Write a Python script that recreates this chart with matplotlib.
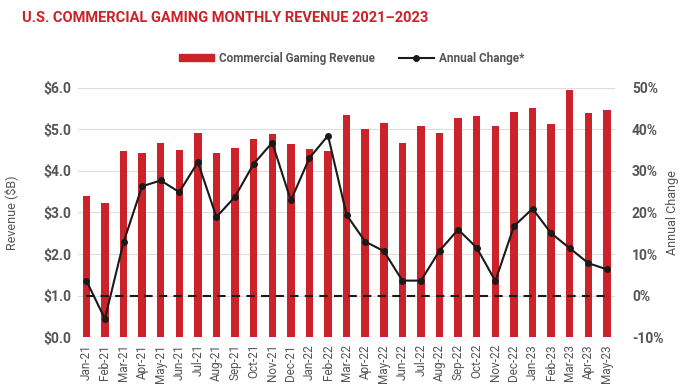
import matplotlib
matplotlib.use("Agg")
import matplotlib.pyplot as plt
import numpy as np
from matplotlib.lines import Line2D
from matplotlib.patches import Patch

plt.rcParams["font.family"] = ["Roboto", "DejaVu Sans"]

# ── data ────────────────────────────────────────────────────────────────
months = ["Jan-21", "Feb-21", "Mar-21", "Apr-21", "May-21", "Jun-21", "Jul-21",
          "Aug-21", "Sep-21", "Oct-21", "Nov-21", "Dec-21", "Jan-22", "Feb-22",
          "Mar-22", "Apr-22", "May-22", "Jun-22", "Jul-22", "Aug-22", "Sep-22",
          "Oct-22", "Nov-22", "Dec-22", "Jan-23", "Feb-23", "Mar-23", "Apr-23",
          "May-23"]
revenue = [3.40, 3.22, 4.47, 4.42, 4.67, 4.51, 4.91, 4.43, 4.55, 4.78, 4.90,
           4.64, 4.52, 4.47, 5.34, 5.00, 5.15, 4.68, 5.09, 4.92, 5.28, 5.32,
           5.07, 5.41, 5.52, 5.13, 5.94, 5.39, 5.47]
annual_change = [3.6, -5.6, 12.8, 26.3, 27.7, 24.9, 32.1, 18.9, 23.8, 31.7,
                 36.8, 22.9, 33.1, 38.5, 19.4, 13.0, 10.7, 3.6, 3.6, 10.8,
                 15.9, 11.5, 3.5, 16.7, 20.9, 15.0, 11.4, 7.8, 6.3]

RED = "#CC2229"
TXT = "#555555"

fig = plt.figure(figsize=(6.96, 3.92), dpi=100)
ax = fig.add_axes([0.112, 0.140, 0.772, 0.636])
x = np.arange(len(months))

ax.bar(x, revenue, width=0.4, color=RED, zorder=2)
ax.set_ylim(0, 6)
ax.set_yticks(np.arange(0, 7, 1))
ax.set_yticklabels([f"${v:.1f}" for v in range(7)], color=TXT,
                   fontsize=10, fontweight="bold")
ax.set_xlim(-0.45, len(months) - 0.55)
ax.set_xticks(x)
ax.set_xticklabels(months, rotation=90, fontsize=8.5, color=TXT)
ax.grid(axis="y", color="#dddddd", linewidth=0.8, zorder=0)
for s in ax.spines.values():
    s.set_visible(False)
ax.tick_params(length=0, pad=5)

# secondary axis: annual change
ax2 = ax.twinx()
ax2.set_ylim(-10, 50)
ax2.set_yticks(np.arange(-10, 60, 10))
ax2.set_yticklabels([f"{v}%" for v in range(-10, 60, 10)], color=TXT,
                    fontsize=10, fontweight="bold")
ax2.plot(x, annual_change, color="#1a1a1a", marker="o", markersize=4,
         linewidth=1.5, zorder=3)
ax2.plot([x[0], x[-1]], [0, 0], color="#1a1a1a", linestyle=(0, (4, 3)),
         linewidth=1.5, zorder=3)
for s in ax2.spines.values():
    s.set_visible(False)
ax2.tick_params(length=0, pad=12)

# axis titles
fig.text(0.016, 0.458, "Revenue ($B)", rotation=90, color=TXT, fontsize=9,
         ha="center", va="center")
fig.text(0.966, 0.458, "Annual Change", rotation=90, color=TXT, fontsize=9,
         ha="center", va="center")

fig.text(0.032, 0.955, "U.S. COMMERCIAL GAMING MONTHLY REVENUE 2021\u20132023",
         color=RED, fontsize=10.5, fontweight="bold", va="center", ha="left")

handles = [Patch(color=RED, label="Commercial Gaming Revenue"),
           Line2D([], [], color="#1a1a1a", marker="o", markersize=4,
                  linewidth=1.5, label="Annual Change*")]
leg = fig.legend(handles=handles, loc="center", bbox_to_anchor=(0.505, 0.852),
                 ncol=2, frameon=False, fontsize=8.5, handlelength=3,
                 handleheight=0.5, handletextpad=0.4, columnspacing=2.0)
for t in leg.get_texts():
    t.set_color(TXT)
    t.set_fontweight("bold")

fig.savefig("out.png", dpi=100)
